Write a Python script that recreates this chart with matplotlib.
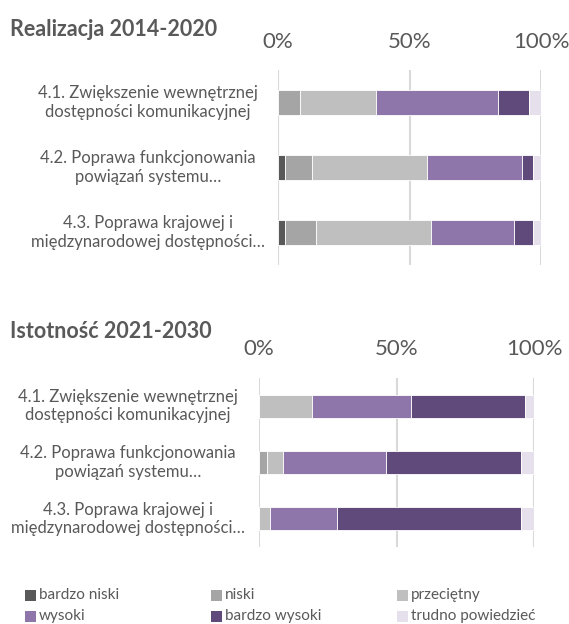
import matplotlib
matplotlib.use('Agg')
import matplotlib.pyplot as plt
from matplotlib.transforms import blended_transform_factory
from matplotlib.patches import Rectangle

plt.rcParams['font.family'] = ['Lato', 'DejaVu Sans']

TXT = '#595959'

categories = [
    '4.1. Zwiększenie wewnętrznej\ndostępności komunikacyjnej',
    '4.2. Poprawa funkcjonowania\npowiązań systemu…',
    '4.3. Poprawa krajowej i\nmiędzynarodowej dostępności…',
]
levels = ['bardzo niski', 'niski', 'przeciętny', 'wysoki', 'bardzo wysoki', 'trudno powiedzieć']
colors = ['#595959', '#a5a5a5', '#bfbfbf', '#8e76ab', '#604a7b', '#e5e0ec']
tick_labels = ['0%', '50%', '100%']

# shares in % per level (same order as levels)
realizacja_41 = [0.0, 8.4, 28.8, 46.5, 11.9, 4.4]
realizacja_42 = [2.7, 10.3, 43.6, 36.2, 4.3, 2.9]
realizacja_43 = [2.7, 11.8, 43.7, 31.4, 7.5, 2.9]

istotnosc_41 = [0.0, 0.0, 19.3, 35.8, 41.8, 3.1]
istotnosc_42 = [0.0, 2.8, 6.1, 37.3, 49.2, 4.6]
istotnosc_43 = [0.0, 0.0, 4.1, 24.2, 67.1, 4.6]

W, H = 569, 624
fig = plt.figure(figsize=(W / 100, H / 100), dpi=100)


def px_axes(left, top, right, bottom):
    return fig.add_axes([left / W, 1 - bottom / H, (right - left) / W, (bottom - top) / H])


def draw(ax, rows, bar_h, label_x, pad, lsp):
    y = list(range(len(rows)))
    left = [0.0] * len(rows)
    for j, col in enumerate(colors):
        vals = [r[j] for r in rows]
        ax.barh(y, vals, left=left, height=bar_h, color=col,
                edgecolor='white', linewidth=0.6, zorder=2)
        left = [a + b for a, b in zip(left, vals)]
    ax.set_xlim(0, 100)
    ax.set_ylim(len(rows) - 0.5, -0.5)
    ax.xaxis.tick_top()
    ax.set_xticks([0, 50, 100])
    ax.set_xticklabels(tick_labels)
    ax.tick_params(axis='x', length=0, pad=pad, labelsize=16, labelcolor=TXT)
    ax.set_yticks([])
    ax.grid(axis='x', color='#d9d9d9', linewidth=1.5, zorder=0)
    ax.set_axisbelow(True)
    for s in ax.spines.values():
        s.set_visible(False)
    tr = blended_transform_factory(fig.transFigure, ax.transData)
    for i, lab in enumerate(categories):
        ax.text(label_x / W, i, lab, transform=tr, ha='center', va='center',
                multialignment='center', fontsize=12, color=TXT, linespacing=lsp)


ax1 = px_axes(278, 70, 541, 265)
draw(ax1, [realizacja_41, realizacja_42, realizacja_43], 0.385, 148, 13, 1.3)
fig.text(10 / W, 1 - 30 / H, 'Realizacja 2014-2020', fontsize=15.5, fontweight='bold',
         color=TXT, va='center', ha='left')

ax2 = px_axes(259, 378, 534, 547)
draw(ax2, [istotnosc_41, istotnosc_42, istotnosc_43], 0.41, 128, 14, 1.18)
fig.text(10 / W, 1 - 332 / H, 'Istotność 2021-2030', fontsize=15.5, fontweight='bold',
         color=TXT, va='center', ha='left')

# legend drawn by hand to match the column positions
col_x = [25, 211, 397]
row_y = [595, 616]
for k, (name, col) in enumerate(zip(levels, colors)):
    x = col_x[k % 3]
    yc = row_y[k // 3]
    fig.patches.append(Rectangle((x / W, 1 - (yc + 5.5) / H), 11 / W, 11 / H,
                                 transform=fig.transFigure, facecolor=col, edgecolor='none'))
    fig.text((x + 14) / W, 1 - yc / H, name, fontsize=11, color=TXT, va='center', ha='left')

fig.savefig('out.png', dpi=100)
